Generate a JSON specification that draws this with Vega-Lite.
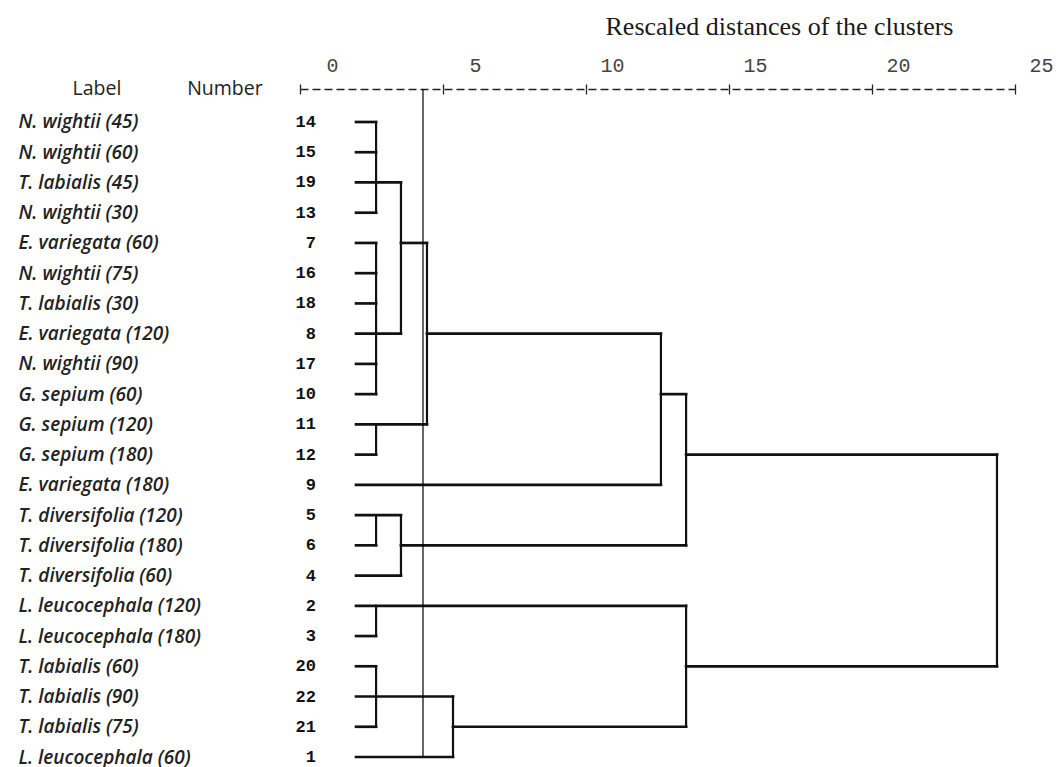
{
  "$schema": "https://vega.github.io/schema/vega-lite/v6.json",
  "width": 715,
  "height": 668,
  "autosize": "none",
  "padding": {"left": 300, "top": 89, "right": 41, "bottom": 10},
  "background": "white",
  "config": {"view": {"stroke": null}},
  "datasets": {
    "leaves": [
      {"number": 14, "label": "N. wightii (45)"},
      {"number": 15, "label": "N. wightii (60)"},
      {"number": 19, "label": "T. labialis (45)"},
      {"number": 13, "label": "N. wightii (30)"},
      {"number": 7, "label": "E. variegata (60)"},
      {"number": 16, "label": "N. wightii (75)"},
      {"number": 18, "label": "T. labialis (30)"},
      {"number": 8, "label": "E. variegata (120)"},
      {"number": 17, "label": "N. wightii (90)"},
      {"number": 10, "label": "G. sepium (60)"},
      {"number": 11, "label": "G. sepium (120)"},
      {"number": 12, "label": "G. sepium (180)"},
      {"number": 9, "label": "E. variegata (180)"},
      {"number": 5, "label": "T. diversifolia (120)"},
      {"number": 6, "label": "T. diversifolia (180)"},
      {"number": 4, "label": "T. diversifolia (60)"},
      {"number": 2, "label": "L. leucocephala (120)"},
      {"number": 3, "label": "L. leucocephala (180)"},
      {"number": 20, "label": "T. labialis (60)"},
      {"number": 22, "label": "T. labialis (90)"},
      {"number": 21, "label": "T. labialis (75)"},
      {"number": 1, "label": "L. leucocephala (60)"}
    ],
    "horizontal": [
      {"row": "N. wightii (45)", "from": 1.96, "to": 2.66},
      {"row": "N. wightii (60)", "from": 1.96, "to": 2.66},
      {"row": "T. labialis (45)", "from": 1.96, "to": 3.53},
      {"row": "N. wightii (30)", "from": 1.96, "to": 2.66},
      {"row": "E. variegata (60)", "from": 1.96, "to": 2.66},
      {"row": "E. variegata (60)", "from": 3.53, "to": 4.44},
      {"row": "N. wightii (75)", "from": 1.96, "to": 2.66},
      {"row": "T. labialis (30)", "from": 1.96, "to": 2.66},
      {"row": "E. variegata (120)", "from": 1.96, "to": 3.53},
      {"row": "E. variegata (120)", "from": 4.44, "to": 12.62},
      {"row": "N. wightii (90)", "from": 1.96, "to": 2.66},
      {"row": "G. sepium (60)", "from": 1.96, "to": 2.66},
      {"row": "G. sepium (60)", "from": 12.62, "to": 13.5},
      {"row": "G. sepium (120)", "from": 1.96, "to": 4.44},
      {"row": "G. sepium (180)", "from": 1.96, "to": 2.66},
      {"row": "G. sepium (180)", "from": 13.5, "to": 24.37},
      {"row": "E. variegata (180)", "from": 1.96, "to": 12.62},
      {"row": "T. diversifolia (120)", "from": 1.96, "to": 3.53},
      {"row": "T. diversifolia (180)", "from": 1.96, "to": 2.66},
      {"row": "T. diversifolia (180)", "from": 3.53, "to": 13.5},
      {"row": "T. diversifolia (60)", "from": 1.96, "to": 3.53},
      {"row": "L. leucocephala (120)", "from": 1.96, "to": 13.5},
      {"row": "L. leucocephala (180)", "from": 1.96, "to": 2.66},
      {"row": "T. labialis (60)", "from": 1.96, "to": 2.66},
      {"row": "T. labialis (60)", "from": 13.5, "to": 24.37},
      {"row": "T. labialis (90)", "from": 1.96, "to": 5.35},
      {"row": "T. labialis (75)", "from": 1.96, "to": 2.66},
      {"row": "T. labialis (75)", "from": 5.35, "to": 13.5},
      {"row": "L. leucocephala (60)", "from": 1.96, "to": 5.35}
    ],
    "vertical": [
      {"at": 2.66, "top": "N. wightii (45)", "bottom": "N. wightii (30)"},
      {"at": 3.53, "top": "T. labialis (45)", "bottom": "E. variegata (120)"},
      {"at": 2.66, "top": "E. variegata (60)", "bottom": "G. sepium (60)"},
      {"at": 4.44, "top": "E. variegata (60)", "bottom": "G. sepium (120)"},
      {"at": 2.66, "top": "G. sepium (120)", "bottom": "G. sepium (180)"},
      {"at": 12.62, "top": "E. variegata (120)", "bottom": "E. variegata (180)"},
      {"at": 13.5, "top": "G. sepium (60)", "bottom": "T. diversifolia (180)"},
      {"at": 2.66, "top": "T. diversifolia (120)", "bottom": "T. diversifolia (180)"},
      {"at": 3.53, "top": "T. diversifolia (120)", "bottom": "T. diversifolia (60)"},
      {"at": 24.37, "top": "G. sepium (180)", "bottom": "T. labialis (60)"},
      {"at": 2.66, "top": "L. leucocephala (120)", "bottom": "L. leucocephala (180)"},
      {"at": 13.5, "top": "L. leucocephala (120)", "bottom": "T. labialis (75)"},
      {"at": 2.66, "top": "T. labialis (60)", "bottom": "T. labialis (75)"},
      {"at": 5.35, "top": "T. labialis (90)", "bottom": "L. leucocephala (60)"}
    ],
    "cut": [{"distance": 4.3}]
  },
  "layer": [
    {
      "data": {"name": "horizontal"},
      "mark": {"type": "rule", "color": "#111", "strokeWidth": 2.7, "strokeCap": "square"},
      "encoding": {
        "x": {
          "field": "from",
          "type": "quantitative",
          "scale": {"domain": [0, 25], "nice": false, "zero": false},
          "axis": {
            "orient": "top",
            "values": [0, 5, 10, 15, 20, 25],
            "grid": false,
            "domainDash": [8, 4],
            "domainColor": "#222",
            "domainWidth": 1.3,
            "tickSize": 5,
            "tickColor": "#222",
            "tickWidth": 1.3,
            "labelFont": "Liberation Mono",
            "labelFontSize": 20,
            "labelColor": "#444",
            "labelAlign": "right",
            "labelBaseline": "alphabetic",
            "labelOffset": 38,
            "labelPadding": 13,
            "labelFlush": false,
            "labelOverlap": false,
            "title": "Rescaled distances of the clusters",
            "titleFont": "Liberation Serif",
            "titleFontSize": 26,
            "titleFontWeight": "normal",
            "titleColor": "#1a1a1a",
            "titleX": 479,
            "titleY": -55,
            "titleAlign": "center",
            "titleBaseline": "alphabetic"
          }
        },
        "x2": {"field": "to"},
        "y": {
          "field": "row",
          "type": "nominal",
          "scale": {
            "type": "point",
            "domain": ["N. wightii (45)", "N. wightii (60)", "T. labialis (45)", "N. wightii (30)", "E. variegata (60)", "N. wightii (75)", "T. labialis (30)", "E. variegata (120)", "N. wightii (90)", "G. sepium (60)", "G. sepium (120)", "G. sepium (180)", "E. variegata (180)", "T. diversifolia (120)", "T. diversifolia (180)", "T. diversifolia (60)", "L. leucocephala (120)", "L. leucocephala (180)", "T. labialis (60)", "T. labialis (90)", "T. labialis (75)", "L. leucocephala (60)"],
            "padding": 0.5456,
            "align": 1,
            "round": false
          },
          "axis": {
            "orient": "left",
            "domain": false,
            "ticks": false,
            "tickSize": 0,
            "grid": false,
            "labelFont": "Open Sans",
            "labelFontStyle": "italic",
            "labelFontWeight": 600,
            "labelFontSize": 19,
            "labelColor": "#222",
            "labelAlign": "left",
            "labelBaseline": "middle",
            "labelPadding": 282,
            "labelLimit": 400,
            "title": "Label\u00a0\u00a0\u00a0\u00a0\u00a0\u00a0\u00a0\u00a0\u00a0\u00a0\u00a0\u00a0\u00a0Number",
            "titleFont": "Open Sans",
            "titleFontSize": 19.5,
            "titleFontWeight": "normal",
            "titleColor": "#222",
            "titleAngle": 0,
            "titleAlign": "left",
            "titleBaseline": "alphabetic",
            "titleX": -228,
            "titleY": 5
          }
        }
      }
    },
    {
      "data": {"name": "vertical"},
      "mark": {"type": "rule", "color": "#111", "strokeWidth": 2.2, "strokeCap": "square"},
      "encoding": {
        "x": {"field": "at", "type": "quantitative", "axis": null},
        "y": {"field": "top", "type": "nominal"},
        "y2": {"field": "bottom"}
      }
    },
    {
      "data": {"name": "leaves"},
      "mark": {"type": "text", "align": "right", "baseline": "middle", "dx": 16, "font": "Liberation Mono", "fontWeight": "bold", "fontSize": 17, "color": "#111"},
      "encoding": {
        "x": {"datum": 0, "type": "quantitative", "axis": null},
        "y": {"field": "label", "type": "nominal"},
        "text": {"field": "number"}
      }
    },
    {
      "data": {"name": "cut"},
      "mark": {"type": "rule", "color": "#000", "strokeWidth": 1.2},
      "encoding": {
        "x": {
          "field": "distance",
          "type": "quantitative",
          "axis": {"orient": "top", "values": [0, 5, 10, 15, 20, 25], "domain": false, "labels": false, "grid": false, "title": null, "tickSize": -5, "tickColor": "#222", "tickWidth": 1.3}
        }
      }
    }
  ],
  "resolve": {"axis": {"x": "independent"}}
}
